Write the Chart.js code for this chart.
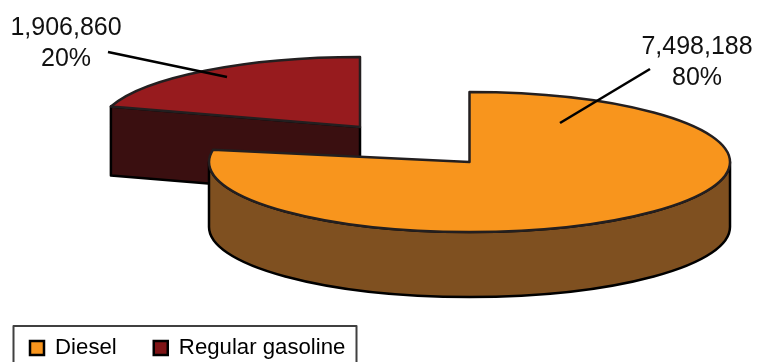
<!DOCTYPE html>
<html>
<head>
<meta charset="utf-8">
<style>html,body{margin:0;padding:0;background:#fff;overflow:hidden}canvas{display:block}</style>
<script src="https://cdn.jsdelivr.net/npm/chart.js@4"></script>
</head>
<body>
<canvas id="c" width="757" height="362"></canvas>
<script>
const categories = ['Diesel', 'Regular gasoline'];
const volumes = [7498188, 1906860];
const topColors = ['#F8951D', '#971B1E'];
const sideColors = ['#7F5020', '#3A0F10'];
const legendColors = ['#F8951D', '#7F1416'];

/* 3-D projection of each exploded slice: where the tip lands, ellipse radii, wall height */
const tips = [{x: 469.5, y: 162}, {x: 360, y: 127}];
const radiusX = 260.5, radiusY = 70;
const depths = [65, 69];
const perspectiveTrim = [7 * Math.PI / 180, 0];
const outline = '#231F20';
const font = '"Liberation Sans", Arial, sans-serif';

const labelSpots = [
  {x: 697, y: 54, from: [650, 69], to: [560, 123]},
  {x: 66, y: 35, from: [108, 52], to: [227, 77]}
];

function drawTop(ctx, el, i) {
  const tip = tips[i], R = el.outerRadius, trim = perspectiveTrim[i];
  const end = el.endAngle, circ = el.circumference;
  el.endAngle = end - trim; el.circumference = circ - trim;
  ctx.save();
  ctx.translate(tip.x, tip.y);
  ctx.scale(radiusX / R, radiusY / R);
  ctx.translate(-el.x, -el.y);
  el.draw(ctx);
  ctx.restore();
  el.endAngle = end; el.circumference = circ;
  ctx.beginPath();
  ctx.moveTo(tip.x, tip.y);
  ctx.ellipse(tip.x, tip.y, radiusX, radiusY, 0, el.startAngle, end - trim);
  ctx.closePath();
  ctx.lineWidth = 2.5; ctx.lineJoin = 'round'; ctx.strokeStyle = outline;
  ctx.stroke();
}

function drawWalls(ctx, el, i) {
  const tip = tips[i], d = depths[i];
  ctx.fillStyle = sideColors[i];
  ctx.strokeStyle = '#000'; ctx.lineWidth = 2.5; ctx.lineJoin = 'round';
  ctx.beginPath();
  if (i === 0) {
    ctx.ellipse(tip.x, tip.y + d, radiusX, radiusY, 0, 0, Math.PI);
    ctx.ellipse(tip.x, tip.y, radiusX, radiusY, 0, Math.PI, 0, true);
  } else {
    const px = tip.x + radiusX * Math.cos(el.startAngle);
    const py = tip.y + radiusY * Math.sin(el.startAngle);
    ctx.moveTo(tip.x, tip.y);
    ctx.lineTo(px, py);
    ctx.lineTo(px, py + d);
    ctx.lineTo(tip.x, tip.y + d);
  }
  ctx.closePath();
  ctx.fill();
  ctx.stroke();
}

const pie3d = {
  id: 'pie3d',
  afterLayout(chart) {
    const lg = chart.legend, pad = lg.options.labels.padding;
    lg.left = 30 - pad;
    lg.top = 337 - pad;
  },
  beforeDatasetsDraw(chart) {
    const ctx = chart.ctx, arcs = chart.getDatasetMeta(0).data;
    drawWalls(ctx, arcs[1], 1);
    drawTop(ctx, arcs[1], 1);
    drawWalls(ctx, arcs[0], 0);
    drawTop(ctx, arcs[0], 0);
    return false;
  },
  afterDraw(chart) {
    const ctx = chart.ctx;
    const total = volumes.reduce((a, b) => a + b, 0);
    ctx.save();
    ctx.font = '25px ' + font;
    ctx.textAlign = 'center';
    ctx.textBaseline = 'alphabetic';
    volumes.forEach((v, i) => {
      const s = labelSpots[i];
      ctx.fillStyle = '#111';
      ctx.fillText(v.toLocaleString('en-US'), s.x, s.y);
      ctx.fillText(Math.round(v / total * 100) + '%', s.x, s.y + 31);
      ctx.beginPath();
      ctx.moveTo(s.from[0], s.from[1]);
      ctx.lineTo(s.to[0], s.to[1]);
      ctx.lineWidth = 2.6; ctx.strokeStyle = '#000';
      ctx.stroke();
    });
    ctx.strokeStyle = '#404040';
    ctx.lineWidth = 2;
    ctx.strokeRect(13.5, 326, 343, 60);
    ctx.restore();
  }
};

new Chart(document.getElementById('c'), {
  type: 'pie',
  data: {
    labels: categories,
    datasets: [{data: volumes, backgroundColor: topColors, borderWidth: 0}]
  },
  plugins: [pie3d],
  options: {
    responsive: false,
    animation: false,
    plugins: {
      tooltip: {enabled: false},
      legend: {
        position: 'bottom',
        align: 'start',
        labels: {
          font: {family: font, size: 22.2},
          color: '#111',
          boxWidth: 14,
          boxHeight: 14,
          padding: 37,
          generateLabels: () => categories.map((name, i) => ({
            text: name, fillStyle: legendColors[i], strokeStyle: '#000', lineWidth: 2.5, hidden: false, index: i
          }))
        }
      }
    }
  }
});
</script>
</body>
</html>
